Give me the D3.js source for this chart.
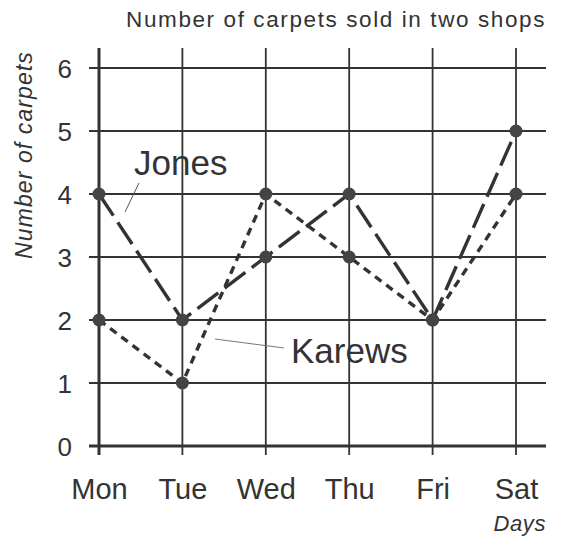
<!DOCTYPE html>
<html>
<head>
<meta charset="utf-8">
<script src="https://cdn.jsdelivr.net/npm/d3@7"></script>
<style>
  body { margin: 0; background: #fff; }
  text { font-family: "Liberation Sans", Arial, sans-serif; fill: #333; }
</style>
</head>
<body>
<div id="chart"></div>
<script>
const days = ["Mon", "Tue", "Wed", "Thu", "Fri", "Sat"];
const jones = [4, 2, 3, 4, 2, 5];
const karews = [2, 1, 4, 3, 2, 4];
const yTicks = [0, 1, 2, 3, 4, 5, 6];

const width = 563, height = 544;

const svg = d3.select("#chart")
  .append("svg")
    .attr("width", width)
    .attr("height", height);

const x = d3.scalePoint()
  .domain(days)
  .range([99, 516]);

const y = d3.scaleLinear()
  .domain([0, 6])
  .range([446, 68]);

const ink = "#333";

// grid
svg.append("g")
  .selectAll("line")
  .data(yTicks)
  .join("line")
    .attr("x1", 89)
    .attr("x2", 546)
    .attr("y1", d => y(d))
    .attr("y2", d => y(d))
    .attr("stroke", ink)
    .attr("stroke-width", d => d === 0 ? 3 : 1.8);

svg.append("g")
  .selectAll("line")
  .data(days)
  .join("line")
    .attr("x1", d => x(d))
    .attr("x2", d => x(d))
    .attr("y1", 48)
    .attr("y2", 455)
    .attr("stroke", ink)
    .attr("stroke-width", (d, i) => i === 0 ? 3 : 1.8);

// axis labels
const xAxis = svg.append("g")
  .attr("transform", "translate(0,446)")
  .call(d3.axisBottom(x).tickSize(0));
xAxis.select(".domain").remove();
xAxis.selectAll("text")
  .attr("y", 53)
  .attr("dy", 0)
  .style("font-size", "29px")
  .style("font-family", "Liberation Sans, Arial, sans-serif")
  .attr("fill", ink);

const yAxis = svg.append("g")
  .attr("transform", "translate(72,0)")
  .call(d3.axisLeft(y).tickValues(yTicks).tickSize(0).tickPadding(0).tickFormat(d3.format("d")));
yAxis.select(".domain").remove();
yAxis.selectAll("text")
  .style("font-size", "26px")
  .style("font-family", "Liberation Sans, Arial, sans-serif")
  .attr("fill", ink)
  .attr("dy", "0.36em");

// series
const line = d3.line()
  .x((d, i) => x(days[i]))
  .y(d => y(d));

svg.append("path")
  .datum(karews)
  .attr("d", line)
  .attr("fill", "none")
  .attr("stroke", ink)
  .attr("stroke-width", 3.4)
  .attr("stroke-dasharray", "8,6");

svg.append("path")
  .datum(jones)
  .attr("d", line)
  .attr("fill", "none")
  .attr("stroke", ink)
  .attr("stroke-width", 3.4)
  .attr("stroke-dasharray", "26,8");

svg.append("g")
  .selectAll("circle")
  .data(jones.map((v, i) => [days[i], v]).concat(karews.map((v, i) => [days[i], v])))
  .join("circle")
    .attr("cx", d => x(d[0]))
    .attr("cy", d => y(d[1]))
    .attr("r", 6.5)
    .attr("fill", "#444");

// series labels
svg.append("line")
  .attr("x1", 125).attr("y1", 212)
  .attr("x2", 139).attr("y2", 183)
  .attr("stroke", "#555").attr("stroke-width", 1);
svg.append("text")
  .attr("x", 134).attr("y", 175)
  .style("font-size", "35px")
  .text("Jones");

svg.append("line")
  .attr("x1", 215).attr("y1", 339)
  .attr("x2", 284).attr("y2", 348)
  .attr("stroke", "#777").attr("stroke-width", 1);
svg.append("text")
  .attr("x", 291).attr("y", 363)
  .style("font-size", "35px")
  .text("Karews");

// titles
svg.append("text")
  .attr("x", 546).attr("y", 27)
  .attr("text-anchor", "end")
  .style("font-size", "22.5px")
  .style("letter-spacing", "1.6px")
  .text("Number of carpets sold in two shops");

svg.append("text")
  .attr("transform", "translate(32,155) rotate(-90)")
  .attr("text-anchor", "middle")
  .style("font-size", "23px")
  .style("letter-spacing", "1.1px")
  .style("font-style", "italic")
  .text("Number of carpets");

svg.append("text")
  .attr("x", 546).attr("y", 531)
  .attr("text-anchor", "end")
  .style("font-size", "22px")
  .style("letter-spacing", "0.6px")
  .style("font-style", "italic")
  .text("Days");
</script>
</body>
</html>
